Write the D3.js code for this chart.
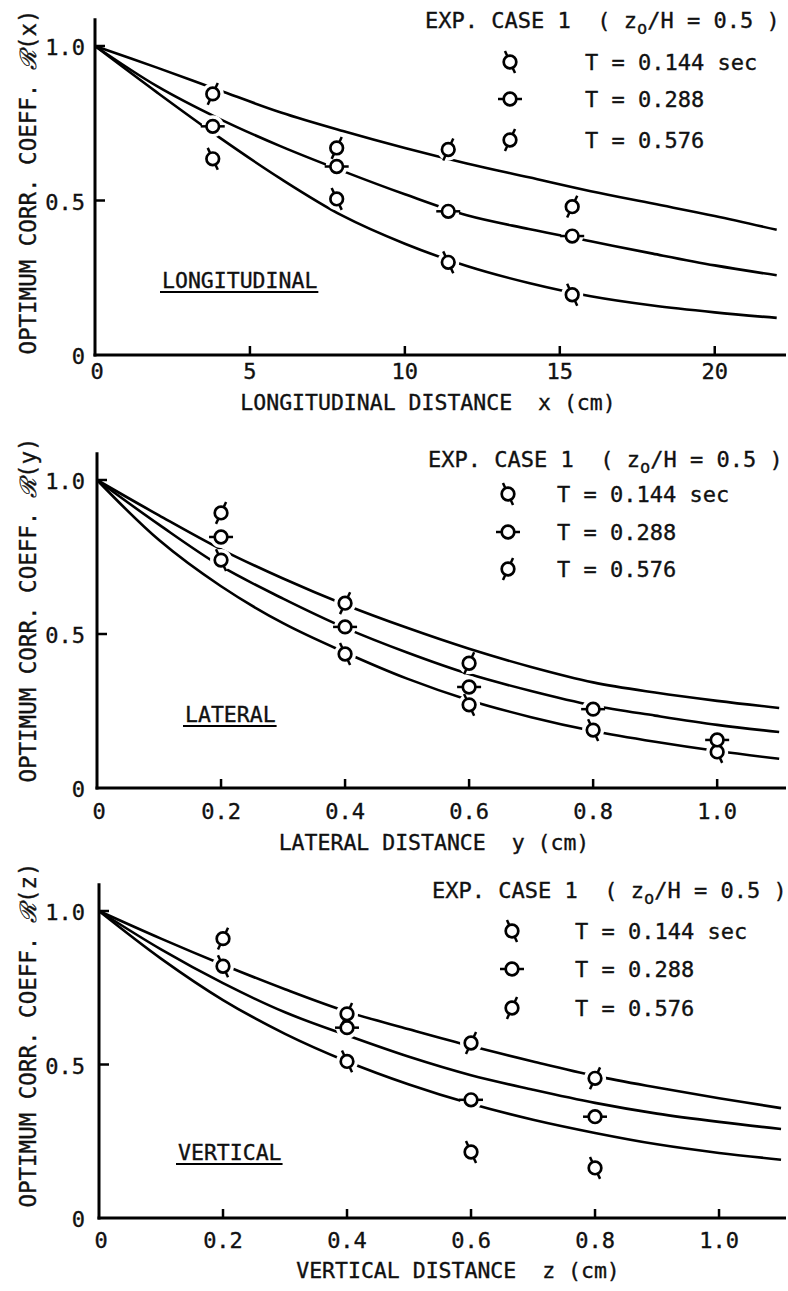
<!DOCTYPE html>
<meta charset="utf-8">
<script src="https://d3js.org/d3.v7.min.js"></script>
<style>
  body { margin: 0; background: #fff; }
  text { font-family: "DejaVu Sans Mono", monospace; fill: #111; stroke: #111; stroke-width: 0.35; }
</style>
<body>
<div id="chart"></div>
<script>
// ---- longitudinal (x, cm)
const longPtX = [3.8, 7.8, 11.4, 15.4];
const long144 = [0.635, 0.505, 0.30, 0.195];
const long288 = [0.74, 0.61, 0.465, 0.385];
const long576 = [0.845, 0.67, 0.665, 0.48];
const longFitX = [0, 2, 4, 6, 8, 10, 12, 14, 16, 18, 20, 22];
const longFit144 = [1.0, 0.85, 0.705, 0.57, 0.45, 0.36, 0.288, 0.233, 0.19, 0.16, 0.138, 0.12];
const longFit288 = [1.0, 0.87, 0.765, 0.675, 0.595, 0.52, 0.452, 0.408, 0.368, 0.328, 0.29, 0.258];
const longFit576 = [1.0, 0.93, 0.857, 0.785, 0.725, 0.67, 0.62, 0.575, 0.53, 0.49, 0.45, 0.405];
const longTicks = [0, 5, 10, 15, 20];

// ---- lateral (y, cm)
const latPtX = [0.2, 0.4, 0.6, 0.8, 1.0];
const lat144 = [0.74, 0.435, 0.27, 0.188, 0.117];
const lat288 = [0.815, 0.523, 0.328, 0.256, 0.156];
const lat576 = [0.893, 0.60, 0.405, null, null];
const latFitX = [0, 0.1, 0.2, 0.3, 0.4, 0.5, 0.6, 0.7, 0.8, 0.9, 1.0, 1.1];
const latFit144 = [1.0, 0.805, 0.655, 0.535, 0.44, 0.355, 0.285, 0.23, 0.185, 0.15, 0.12, 0.095];
const latFit288 = [1.0, 0.855, 0.72, 0.615, 0.52, 0.44, 0.37, 0.315, 0.268, 0.235, 0.205, 0.182];
const latFit576 = [1.0, 0.885, 0.775, 0.68, 0.595, 0.52, 0.452, 0.393, 0.343, 0.31, 0.283, 0.26];

// ---- vertical (z, cm)
const vertPtX = [0.2, 0.4, 0.6, 0.8];
const vert144 = [0.82, 0.51, 0.215, 0.163];
const vert288 = [null, 0.62, 0.385, 0.33];
const vert576 = [0.91, 0.665, 0.57, 0.455];
const vertFitX = [0, 0.1, 0.2, 0.3, 0.4, 0.5, 0.6, 0.7, 0.8, 0.9, 1.0, 1.1];
const vertFit144 = [1.0, 0.845, 0.71, 0.60, 0.51, 0.435, 0.372, 0.32, 0.277, 0.24, 0.212, 0.19];
const vertFit288 = [1.0, 0.875, 0.765, 0.67, 0.595, 0.525, 0.465, 0.418, 0.375, 0.34, 0.313, 0.29];
const vertFit576 = [1.0, 0.91, 0.825, 0.745, 0.672, 0.615, 0.56, 0.51, 0.463, 0.425, 0.39, 0.358];

const fracTicks = [0, 0.2, 0.4, 0.6, 0.8, 1.0];
const yTicks = [0.5, 1.0];
const seriesKeys = ["t144", "t288", "t576"];
const legendLabels = ["T = 0.144 sec", "T = 0.288", "T = 0.576"];

const svg = d3.select("#chart").append("svg")
  .attr("width", 788).attr("height", 1291);

// marker stub direction for each period
const stubDir = { t144: [0.42, 0.91], t288: [1, 0], t576: [-0.42, 0.91] };

function marker(g, kind, cx, cy) {
  const r = 6.3, s = 12;
  const [ux, uy] = stubDir[kind];
  g.append("line")
    .attr("x1", cx - ux * s).attr("y1", cy - uy * s)
    .attr("x2", cx + ux * s).attr("y2", cy + uy * s)
    .attr("stroke", "#000").attr("stroke-width", 2.5);
  g.append("circle").attr("cx", cx).attr("cy", cy).attr("r", r)
    .attr("fill", "#fff").attr("stroke", "#000").attr("stroke-width", 2.7);
}

const panels = [
  {
    xd: [0, 22.3], xr: [95, 786], yr: [355, 46], yTop: 1.09,
    ticks: longTicks, fmt: d => d, tickBase: 379,
    ptX: longPtX, pts: [long144, long288, long576],
    fitX: longFitX, fits: [longFit144, longFit288, longFit576],
    title: "LONGITUDINAL DISTANCE  x (cm)", titleX: 428, titleY: 410,
    ylab: "(x)", ylabY: 182,
    tag: "LONGITUDINAL", tagX: 162, tagY: 288,
    leg: { x: 425, y: 28, mx: 510, tx: 585, rows: [62, 99, 140] }
  },
  {
    xd: [0, 1.111], xr: [97, 786], yr: [788, 480], yTop: 1.09,
    ticks: fracTicks, fmt: d3.format(".1f"), tickBase: 819,
    ptX: latPtX, pts: [lat144, lat288, lat576],
    fitX: latFitX, fits: [latFit144, latFit288, latFit576],
    title: "LATERAL DISTANCE  y (cm)", titleX: 434, titleY: 850,
    ylab: "(y)", ylabY: 610,
    tag: "LATERAL", tagX: 185, tagY: 722,
    leg: { x: 428, y: 467, mx: 508, tx: 557, rows: [494, 532, 569] }
  },
  {
    xd: [0, 1.108], xr: [99, 786], yr: [1218, 911], yTop: 1.09,
    ticks: fracTicks, fmt: d3.format(".1f"), tickBase: 1248,
    ptX: vertPtX, pts: [vert144, vert288, vert576],
    fitX: vertFitX, fits: [vertFit144, vertFit288, vertFit576],
    title: "VERTICAL DISTANCE  z (cm)", titleX: 458, titleY: 1278,
    ylab: "(z)", ylabY: 1035,
    tag: "VERTICAL", tagX: 178, tagY: 1160,
    leg: { x: 432, y: 898, mx: 512, tx: 575, rows: [931, 969, 1008] }
  }
];

panels.forEach(p => {
  const g = svg.append("g");
  const x = d3.scaleLinear().domain(p.xd).range(p.xr);
  const y = d3.scaleLinear().domain([0, 1]).range(p.yr);

  // axes
  g.append("line").attr("x1", x(0)).attr("x2", x(0))
    .attr("y1", y(0) + 1.5).attr("y2", y(p.yTop))
    .attr("stroke", "#000").attr("stroke-width", 3);
  g.append("line").attr("x1", x(0) - 1.5).attr("x2", x(p.xd[1]))
    .attr("y1", y(0)).attr("y2", y(0))
    .attr("stroke", "#000").attr("stroke-width", 3);

  // x ticks (inward) and labels
  p.ticks.forEach(t => {
    if (t > 0) {
      g.append("line").attr("x1", x(t)).attr("x2", x(t))
        .attr("y1", y(0)).attr("y2", y(0) - 9)
        .attr("stroke", "#000").attr("stroke-width", 2.5);
    }
    g.append("text").attr("x", x(t) + (t === 0 ? 2 : 0)).attr("y", p.tickBase)
      .attr("text-anchor", "middle").attr("font-size", 22)
      .text(t === 0 ? "0" : p.fmt(t));
  });

  // y ticks and labels
  yTicks.forEach(t => {
    g.append("line").attr("x1", x(0)).attr("x2", x(0) + 10)
      .attr("y1", y(t)).attr("y2", y(t))
      .attr("stroke", "#000").attr("stroke-width", 2.5);
  });
  [0, 0.5, 1.0].forEach(t => {
    g.append("text").attr("x", 85).attr("y", y(t) + 9)
      .attr("text-anchor", "end").attr("font-size", 22)
      .text(t === 0 ? "0" : d3.format(".1f")(t));
  });

  // y axis title
  const yt = g.append("text")
    .attr("transform", `translate(36,${p.ylabY}) rotate(-90)`)
    .attr("text-anchor", "middle").attr("font-size", 22.5);
  yt.append("tspan").text("OPTIMUM CORR. COEFF. ");
  yt.append("tspan").attr("font-family", "DejaVu Serif").attr("font-style", "italic").text("ℛ");
  yt.append("tspan").text(p.ylab);

  // x axis title
  g.append("text").attr("x", p.titleX).attr("y", p.titleY)
    .attr("text-anchor", "middle").attr("font-size", 21.5)
    .style("white-space", "pre")
    .text(p.title);

  // underlined tag
  const tag = g.append("text").attr("x", p.tagX).attr("y", p.tagY)
    .attr("font-size", 21.5).text(p.tag);
  const tw = tag.node().getComputedTextLength();
  g.append("line").attr("x1", p.tagX - 2).attr("x2", p.tagX + tw + 1)
    .attr("y1", p.tagY + 4).attr("y2", p.tagY + 4)
    .attr("stroke", "#000").attr("stroke-width", 2.2);

  // fitted curves
  const line = d3.line()
    .x((d, i) => x(p.fitX[i])).y(d => y(d))
    .curve(d3.curveCatmullRom.alpha(0.5));
  p.fits.forEach(f => {
    g.append("path").attr("d", line(f))
      .attr("fill", "none").attr("stroke", "#000").attr("stroke-width", 2.6);
  });

  // white halos give the gaps in the curves around the symbols
  const pts = [];
  p.pts.forEach((arr, si) => arr.forEach((v, i) => {
    if (v != null) pts.push({ k: seriesKeys[si], cx: x(p.ptX[i]), cy: y(v) });
  }));
  pts.forEach(d => g.append("circle").attr("cx", d.cx).attr("cy", d.cy)
    .attr("r", 11).attr("fill", "#fff"));
  pts.forEach(d => marker(g, d.k, d.cx, d.cy));

  // legend
  const L = p.leg;
  const head = g.append("text").attr("x", L.x).attr("y", L.y)
    .attr("font-size", 22).style("white-space", "pre");
  head.append("tspan").text("EXP. CASE 1  ( z");
  head.append("tspan").attr("dy", 6).attr("font-size", 17).text("o");
  head.append("tspan").attr("dy", -6).text("/H = 0.5 )");
  seriesKeys.forEach((k, i) => {
    marker(g, k, L.mx, L.rows[i]);
    g.append("text").attr("x", L.tx).attr("y", L.rows[i] + 8)
      .attr("font-size", 22).text(legendLabels[i]);
  });
});
</script>
</body>
